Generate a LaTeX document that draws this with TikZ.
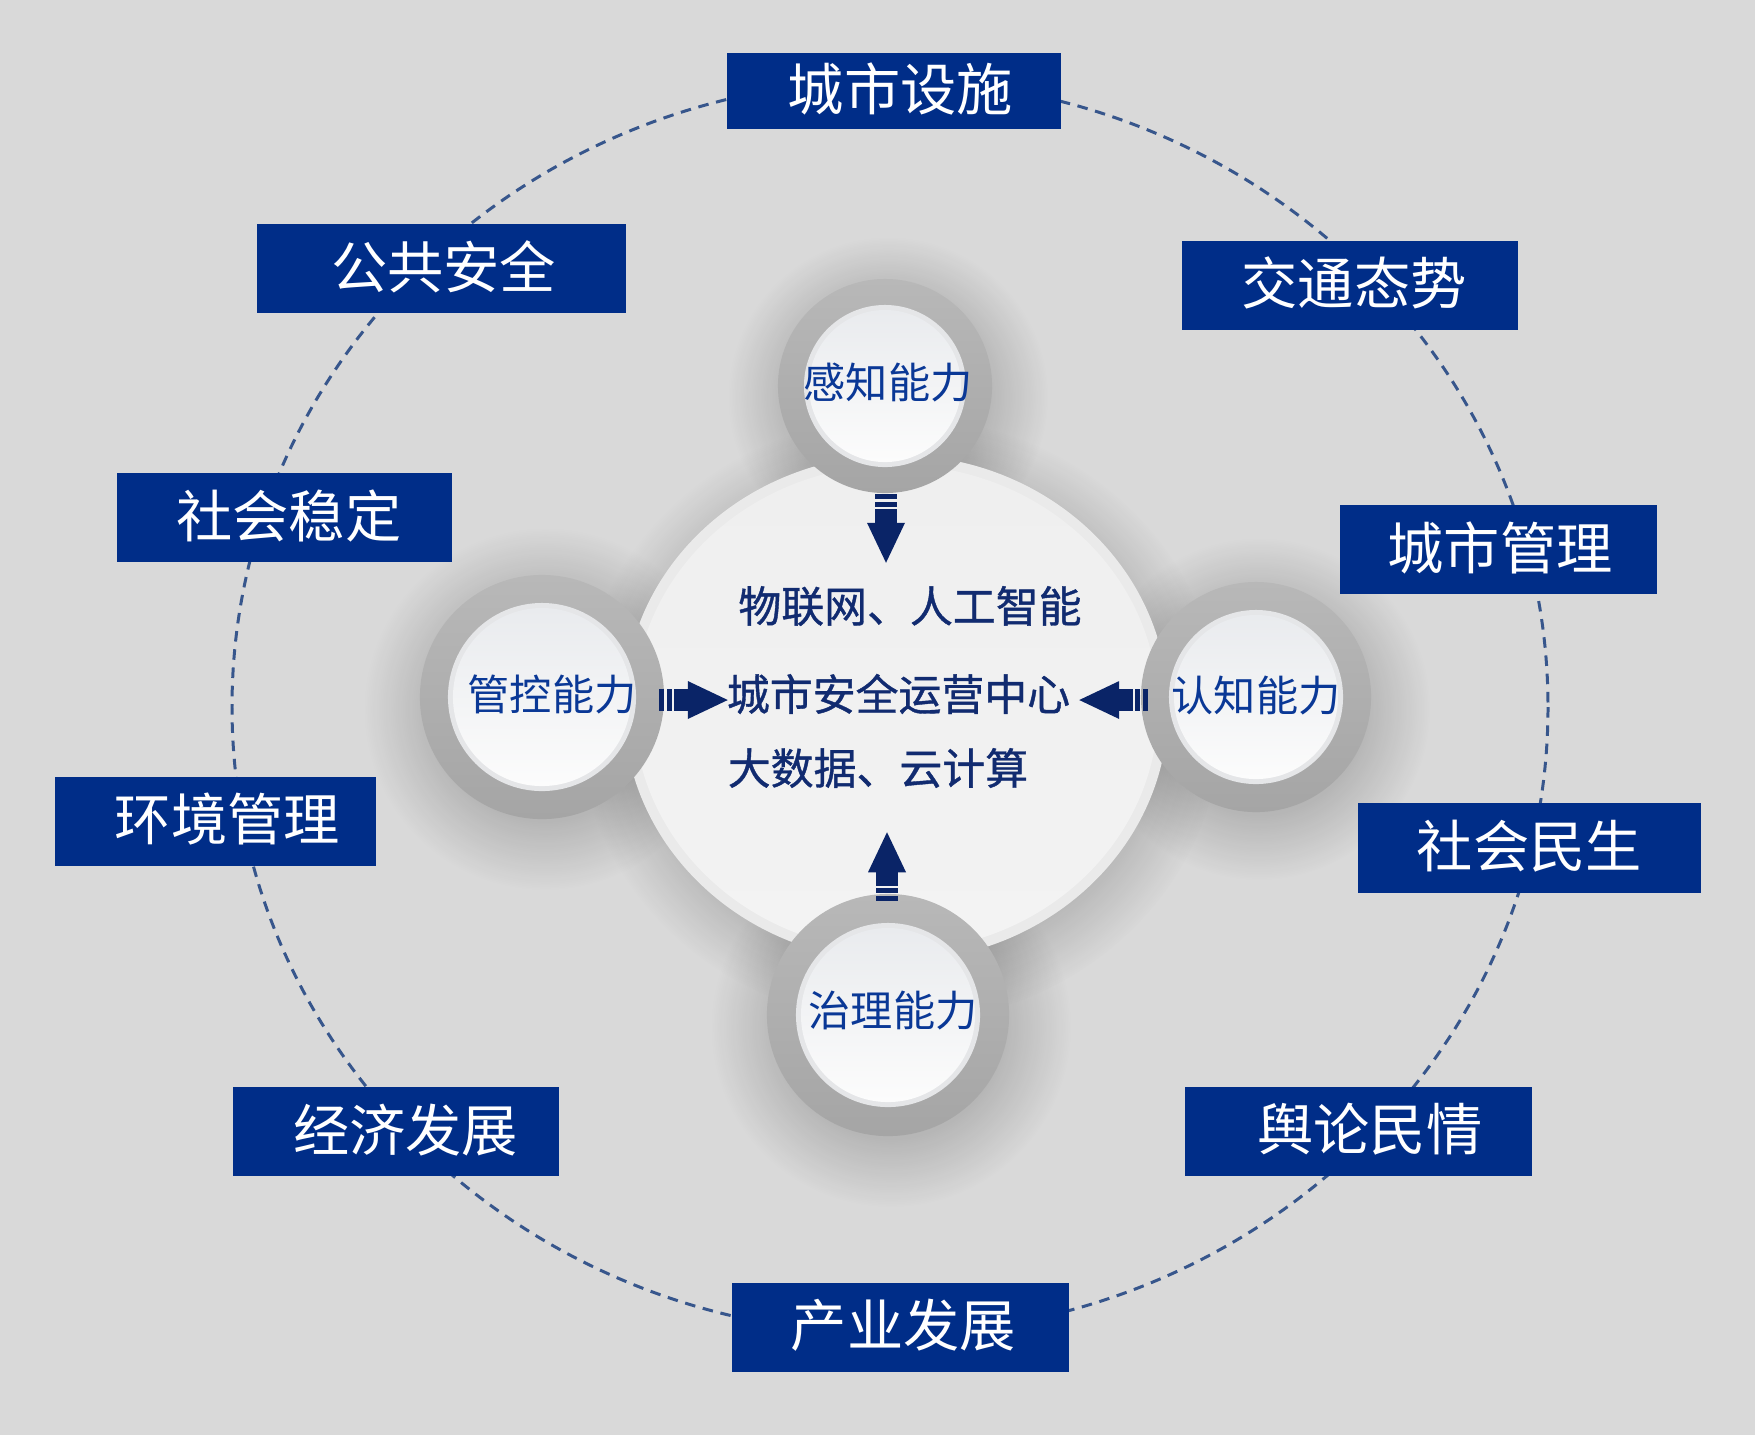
\documentclass[tikz,border=0pt]{standalone}
\usepackage{fontspec}
\setmainfont{Noto Sans CJK SC}
\newfontfamily\midfont[FakeBold=0.9]{Noto Sans CJK SC}
\usetikzlibrary{shapes.geometric,fadings,calc}
\definecolor{bg}{HTML}{D9D9D9}
\definecolor{boxblue}{HTML}{002D88}
\definecolor{dashcol}{HTML}{37568C}
\definecolor{ringtop}{HTML}{B8B8B8}
\definecolor{ringbot}{HTML}{A5A5A5}
\definecolor{rimcol}{HTML}{E5E6E8}
\definecolor{facetop}{HTML}{E9EBEE}
\definecolor{facebot}{HTML}{FCFCFC}
\definecolor{corerim}{HTML}{EAEAEA}
\definecolor{coretop}{HTML}{EFEFEF}
\definecolor{corebot}{HTML}{F3F3F3}
\definecolor{arrowcol}{HTML}{0A2467}
\definecolor{captblue}{HTML}{0A3896}
\definecolor{midblue}{HTML}{112B70}
\pgfdeclareradialshading{shfadeA}{\pgfpointorigin}{color(0bp)=(pgftransparent!0); color(14bp)=(pgftransparent!0); color(25bp)=(pgftransparent!100); color(50bp)=(pgftransparent!100)}
\pgfdeclarefading{ringfade}{\pgfuseshading{shfadeA}}
\pgfdeclareradialshading{shfadeB}{\pgfpointorigin}{color(0bp)=(pgftransparent!0); color(19bp)=(pgftransparent!0); color(25bp)=(pgftransparent!100); color(50bp)=(pgftransparent!100)}
\pgfdeclarefading{corefade}{\pgfuseshading{shfadeB}}
\tikzset{
  lbl/.style={fill=boxblue, inner sep=0pt},
  lbltext/.style={text=white, inner sep=0pt, font=\fontsize{16pt}{19pt}\selectfont},
  dashring/.style={draw=dashcol, line width=0.85pt, dash pattern=on 3pt off 2.2pt},
  ringshadow/.style={fill=black, opacity=0.18, path fading=ringfade},
  coreshadow/.style={fill=black, opacity=0.17, path fading=corefade},
  corebase/.style={ellipse, inner sep=0pt, fill=corerim},
  coreface/.style={ellipse, inner sep=0pt, top color=coretop, bottom color=corebot},
  ring/.style={circle, inner sep=0pt, top color=ringtop, bottom color=ringbot},
  rim/.style={circle, inner sep=0pt, fill=rimcol},
  face/.style={circle, inner sep=0pt, top color=facetop, bottom color=facebot},
  captext/.style={text=captblue, inner sep=0pt, font=\fontsize{12pt}{14pt}\selectfont},
  midtext/.style={text=midblue, inner sep=0pt, font=\midfont\fontsize{12.2pt}{14pt}\selectfont},
  striparrow/.pic={
    \fill[arrowcol] (0,-11) rectangle (5,11);
    \fill[arrowcol] (8,-11) rectangle (13,11);
    \fill[arrowcol] (15,-11) rectangle (29.5,11);
    \fill[arrowcol] (29,-19) -- (69,0) -- (29,19) -- cycle;
  }
}
\begin{document}
\begin{tikzpicture}[x=0.01cm,y=-0.01cm]
\useasboundingbox (0,0) rectangle (1755,1435);
\fill[bg] (0,0) rectangle (1755,1435);
% dashed orbit
\draw[dashring] (890,707) ellipse [x radius=658, y radius=627];
% soft shadows
\fill[coreshadow] (900,720) ellipse [x radius=322, y radius=303];
\fill[ringshadow] (888,397) circle [radius=160];
\fill[ringshadow] (545,709) circle [radius=181];
\fill[ringshadow] (1259,709) circle [radius=171];
\fill[ringshadow] (891,1027) circle [radius=180];
% label boxes
\node[lbl, minimum width=3.335cm, minimum height=0.761cm] (b1) at (894.3,90.7) {};
\node[lbl, minimum width=3.683cm, minimum height=0.895cm] (b2) at (441.7,268.7) {};
\node[lbl, minimum width=3.358cm, minimum height=0.896cm] (b3) at (1350,285.4) {};
\node[lbl, minimum width=3.347cm, minimum height=0.884cm] (b4) at (284.8,517.7) {};
\node[lbl, minimum width=3.168cm, minimum height=0.895cm] (b5) at (1498.2,549.5) {};
\node[lbl, minimum width=3.213cm, minimum height=0.895cm] (b6) at (215.4,821.5) {};
\node[lbl, minimum width=3.430cm, minimum height=0.900cm] (b7) at (1529.5,847.7) {};
\node[lbl, minimum width=3.257cm, minimum height=0.896cm] (b8) at (395.6,1131.6) {};
\node[lbl, minimum width=3.470cm, minimum height=0.896cm] (b9) at (1358.8,1131.6) {};
\node[lbl, minimum width=3.370cm, minimum height=0.896cm] (b10) at (900.5,1327.5) {};
\node[lbltext] (l1) at ($(b1.center)+(6,-2)$) {城市设施};
\node[lbltext] (l2) at ($(b2.center)+(2,-2)$) {公共安全};
\node[lbltext] (l3) at ($(b3.center)+(4,-2)$) {交通态势};
\node[lbltext] (l4) at ($(b4.center)+(4,-2)$) {社会稳定};
\node[lbltext] (l5) at ($(b5.center)+(2,-2)$) {城市管理};
\node[lbltext] (l6) at ($(b6.center)+(12,-2)$) {环境管理};
\node[lbltext] (l7) at ($(b7.center)+(0,-2)$) {社会民生};
\node[lbltext] (l8) at ($(b8.center)+(10,-2)$) {经济发展};
\node[lbltext] (l9) at ($(b9.center)+(11,-2)$) {舆论民情};
\node[lbltext] (l10) at ($(b10.center)+(3,-2)$) {产业发展};
% central disc
\node[corebase, minimum width=5.44cm, minimum height=5.06cm] (core) at (896,708) {};
\node[coreface, minimum width=5.24cm, minimum height=4.86cm] (coref) at (core.center) {};
% capability rings
\node[ring, minimum size=2.14cm] (rT) at (885,386) {};
\node[rim, minimum size=1.62cm] (mT) at (rT.center) {};
\node[face, minimum size=1.52cm] (fT) at (rT.center) {};
\node[ring, minimum size=2.44cm] (rL) at (542,697) {};
\node[rim, minimum size=1.88cm] (mL) at (rL.center) {};
\node[face, minimum size=1.78cm] (fL) at (rL.center) {};
\node[ring, minimum size=2.30cm] (rR) at (1256,697) {};
\node[rim, minimum size=1.74cm] (mR) at (rR.center) {};
\node[face, minimum size=1.64cm] (fR) at (rR.center) {};
\node[ring, minimum size=2.42cm] (rB) at (888,1015) {};
\node[rim, minimum size=1.84cm] (mB) at (rB.center) {};
\node[face, minimum size=1.74cm] (fB) at (rB.center) {};
% ring texts
\node[captext] (tT) at (888,382) {感知能力};
\node[captext] (tL) at (552,694) {管控能力};
\node[captext] (tR) at (1256,695) {认知能力};
\node[captext] (tB) at (893,1010) {治理能力};
% centre texts
\node[midtext] (c1) at (910,606) {物联网、人工智能};
\node[midtext] (c2) at (898.5,694) {城市安全运营中心};
\node[midtext] (c3) at (878,768) {大数据、云计算};
% striped arrows from rings toward the centre
\coordinate (aT) at ($(rT.south)+(1,0)$);
\coordinate (aB) at ($(rB.north)+(-1,8)$);
\coordinate (aL) at ($(rL.east)+(-6,3)$);
\coordinate (aR) at ($(rR.west)+(8,3)$);
\pic[rotate=-90] at (aT) {striparrow};
\pic[rotate=90] at (aB) {striparrow};
\pic at (aL) {striparrow};
\pic[rotate=180] at (aR) {striparrow};
\end{tikzpicture}
\end{document}
